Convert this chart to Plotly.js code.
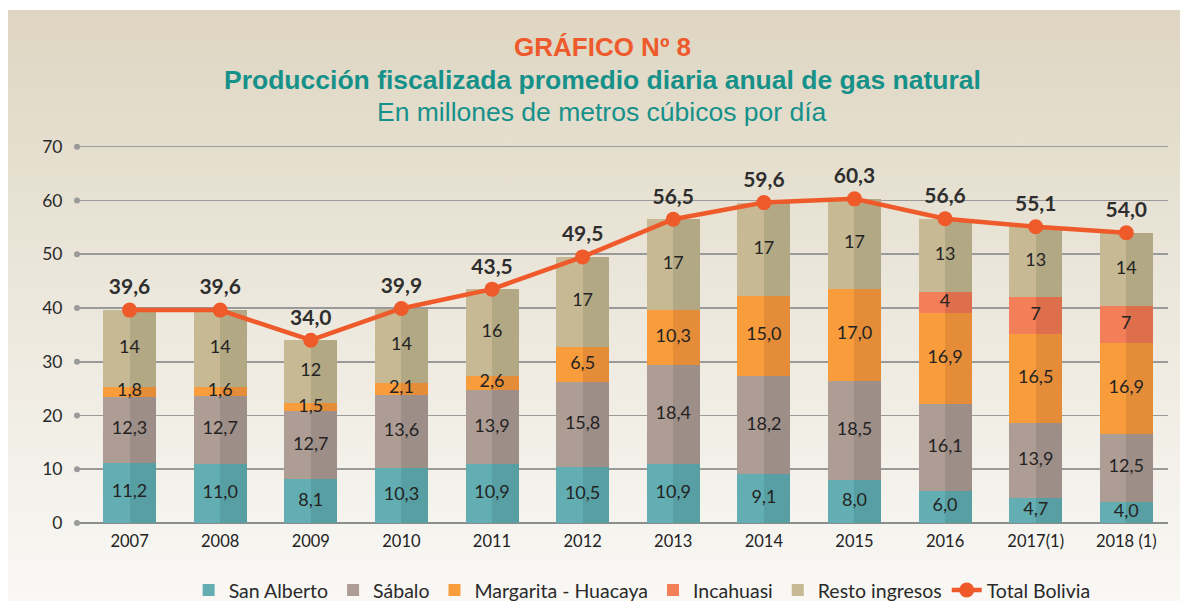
<!DOCTYPE html>
<html>
<head>
<meta charset="utf-8">
<script src="https://cdn.plot.ly/plotly-3.0.1.min.js"></script>
<style>
  html, body { margin: 0; padding: 0; background: #ffffff; width: 1180px; height: 601px; overflow: hidden; }
  #bg { position: absolute; left: 8px; top: 10px; width: 1172px; height: 591px;
        background: linear-gradient(to bottom, #ded6c2 0%, #ebe6da 45%, #f9f8f5 100%); }
  #chart { position: absolute; left: 0; top: 0; width: 1180px; height: 601px; }
</style>
</head>
<body>
<div id="bg"></div>
<div id="chart"></div>
<script>
// ---- data ----
const years = ['2007','2008','2009','2010','2011','2012','2013','2014','2015','2016','2017(1)','2018 (1)'];
const sanAlberto = [11.2, 11.0, 8.1, 10.3, 10.9, 10.5, 10.9, 9.1, 8.0, 6.0, 4.7, 4.0];
const sabalo     = [12.3, 12.7, 12.7, 13.6, 13.9, 15.8, 18.4, 18.2, 18.5, 16.1, 13.9, 12.5];
const margarita  = [1.8, 1.6, 1.5, 2.1, 2.6, 6.5, 10.3, 15.0, 17.0, 16.9, 16.5, 16.9];
const incahuasi  = [null, null, null, null, null, null, null, null, null, 4, 7, 7];
const resto      = [14.3, 14.3, 11.7, 13.9, 16.1, 16.7, 16.9, 17.3, 16.8, 13.6, 13.0, 13.6];
const restoLabels = ['14','14','12','14','16','17','17','17','17','13','13','14'];
const incahuasiLabels = ['','','','','','','','','','4','7','7'];
const totalBolivia = [39.6, 39.6, 34.0, 39.9, 43.5, 49.5, 56.5, 59.6, 60.3, 56.6, 55.1, 54.0];
const yTicks = [0, 10, 20, 30, 40, 50, 60, 70];

const fmt1 = v => (v === null ? '' : v.toFixed(1).replace('.', ','));

const series = [
  { name: 'San Alberto', values: sanAlberto, labels: sanAlberto.map(fmt1), light: '#63aeb2', dark: '#589fa3' },
  { name: 'Sábalo', values: sabalo, labels: sabalo.map(fmt1), light: '#ae9d95', dark: '#9d8e88' },
  { name: 'Margarita - Huacaya', values: margarita, labels: margarita.map(fmt1), light: '#f89c3c', dark: '#e48c37' },
  { name: 'Incahuasi', values: incahuasi, labels: incahuasiLabels, light: '#f37f58', dark: '#dd6f4d' },
  { name: 'Resto ingresos', values: resto, labels: restoLabels, light: '#c6b994', dark: '#b2a884' }
];

const BW = 0.585;
const XMIN = -0.58, XMAX = 11.46;
const YMAX = 70.5;
const labelFont = 'Lato, "Open Sans", sans-serif';

const barTraces = [];
const textTraces = [];
let cum = years.map(() => 0);
series.forEach(s => {
  const base = cum.slice();
  barTraces.push({
    type: 'bar', x: years, y: s.values, base: base, width: BW, offset: -BW / 2,
    marker: { color: s.dark, line: { width: 0 } }, showlegend: false, hoverinfo: 'skip', legendgroup: s.name
  });
  barTraces.push({
    type: 'bar', x: years, y: s.values, base: base, width: BW / 2, offset: -BW / 2,
    marker: { color: s.light, line: { width: 0 } }, name: s.name, showlegend: true, legendgroup: s.name
  });
  textTraces.push({
    type: 'scatter', mode: 'text', x: years,
    y: s.values.map((v, i) => v === null ? null : base[i] + v / 2),
    text: s.labels, textposition: 'middle center',
    textfont: { family: labelFont, size: 18, color: '#232323' },
    showlegend: false, hoverinfo: 'skip', cliponaxis: false
  });
  cum = cum.map((c, i) => c + (s.values[i] || 0));
});

const dotTrace = {
  type: 'scatter', mode: 'markers', xaxis: 'x2', yaxis: 'y', x: yTicks.map(() => XMIN), y: yTicks,
  marker: { size: 6, color: '#9a9a9a' }, showlegend: false, hoverinfo: 'skip', cliponaxis: false
};

const totalTrace = {
  type: 'scatter', mode: 'lines+markers+text', name: 'Total Bolivia',
  x: years, y: totalBolivia, text: totalBolivia.map(fmt1),
  textposition: 'top center',
  textfont: { family: labelFont, size: 21, color: '#2e2e2e', weight: 'bold' },
  line: { color: '#ef5a2a', width: 4.5 },
  marker: { color: '#ef5a2a', size: 15 },
  cliponaxis: false
};

const plotB = 522.7;
const unitPx = (522.7 - 146.7) / 70;
const plotL = 76.7, plotR = 1168, plotT = plotB - YMAX * unitPx;
const pw = plotR - plotL, ph = plotB - plotT;
const px = xp => (xp - plotL) / pw;
const py = yp => (plotB - yp) / ph;
const titleFont = '"Liberation Sans", Arial, sans-serif';

const layout = {
  width: 1180, height: 601,
  margin: { l: plotL, r: 1180 - plotR, t: plotT, b: 601 - plotB, pad: 0, autoexpand: false },
  paper_bgcolor: 'rgba(0,0,0,0)', plot_bgcolor: 'rgba(0,0,0,0)',
  barmode: 'overlay', bargap: 0,
  separators: ',.',
  font: { family: labelFont, color: '#2a2a2a' },
  xaxis: {
    type: 'category', range: [XMIN, XMAX], showgrid: false, zeroline: false, showline: false,
    ticks: 'outside', ticklen: 3, tickcolor: 'rgba(0,0,0,0)',
    tickfont: { family: labelFont, size: 16.5, color: '#222' }, fixedrange: true
  },
  xaxis2: {
    overlaying: 'x', range: [XMIN, XMAX], visible: false, fixedrange: true
  },
  yaxis: {
    range: [0, YMAX], tickvals: yTicks, ticktext: yTicks.map(String),
    showgrid: true, gridcolor: '#9a9a9a', gridwidth: 1.6,
    zeroline: true, zerolinecolor: '#8c8c8c', zerolinewidth: 2.5,
    showline: false, ticks: 'outside', ticklen: 10, tickcolor: 'rgba(0,0,0,0)',
    tickfont: { family: labelFont, size: 17.5, color: '#2a2a2a' }, fixedrange: true
  },
  showlegend: true,
  legend: {
    orientation: 'h', x: px(642), xanchor: 'center', y: py(590), yanchor: 'middle',
    font: { family: labelFont, size: 19.5, color: '#2a2a2a' }, bgcolor: 'rgba(0,0,0,0)',
    traceorder: 'normal', itemwidth: 30
  },
  annotations: [
    { text: '<b>GRÁFICO Nº 8</b>', xref: 'paper', yref: 'paper', x: px(602), y: py(47),
      xanchor: 'center', yanchor: 'middle', showarrow: false,
      font: { family: titleFont, size: 26, color: '#ee5a2b' } },
    { text: '<b>Producción fiscalizada promedio diaria anual de gas natural</b>', xref: 'paper', yref: 'paper',
      x: px(602), y: py(80), xanchor: 'center', yanchor: 'middle', showarrow: false,
      font: { family: titleFont, size: 26.5, color: '#16918a' } },
    { text: 'En millones de metros cúbicos por día', xref: 'paper', yref: 'paper',
      x: px(602), y: py(112), xanchor: 'center', yanchor: 'middle', showarrow: false,
      font: { family: titleFont, size: 26.5, color: '#16918a' } }
  ]
};

Plotly.newPlot('chart', [...barTraces, dotTrace, totalTrace, ...textTraces], layout, { displayModeBar: false, staticPlot: true });
</script>
</body>
</html>
